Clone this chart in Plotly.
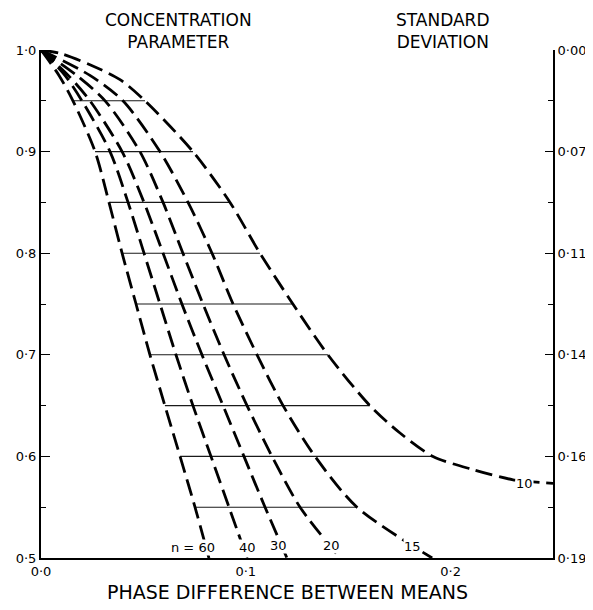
import numpy as np
import plotly.graph_objects as go

# ---------------- data ----------------
levels = [1.0, 0.975, 0.95, 0.9, 0.85, 0.8, 0.75, 0.7, 0.65, 0.6, 0.55, 0.5]

n60_x = [0, 0.0088, 0.0156, 0.0264, 0.0332, 0.0396, 0.0464, 0.0532, 0.0605, 0.0679, 0.0752, 0.0820]
n40_x = [0, 0.0117, 0.0200, 0.0337, 0.0425, 0.0503, 0.0581, 0.0659, 0.0742, 0.0830, 0.0918, 0.1006]
n30_x = [0, 0.0133, 0.0239, 0.0396, 0.0503, 0.0596, 0.0688, 0.0786, 0.0889, 0.0991, 0.1094, 0.1201]
n20_x = [0, 0.0174, 0.0313, 0.0483, 0.0596, 0.0693, 0.0791, 0.0894, 0.1006, 0.1128, 0.1265, 0.1460]
n15_x = [0, 0.0239, 0.0400, 0.0581, 0.0718, 0.0835, 0.0938, 0.1055, 0.1182, 0.1338, 0.1543, 0.1910]

n10_y = [1.0, 0.9967, 0.9855, 0.9708, 0.95, 0.9, 0.85, 0.8, 0.75, 0.7, 0.65, 0.623, 0.6, 0.587, 0.577, 0.5735]
n10_x = [0, 0.0093, 0.0239, 0.0386, 0.0508, 0.0742, 0.0923, 0.1069, 0.1230, 0.1401, 0.1606, 0.1753, 0.1914, 0.2109, 0.2305, 0.25]

grid_levels = [0.95, 0.9, 0.85, 0.8, 0.75, 0.7, 0.65, 0.6, 0.55]

left_tickvals = [0.5, 0.6, 0.7, 0.8, 0.9, 1.0]
left_ticktext = ["0·5", "0·6", "0·7", "0·8", "0·9", "1·0"]
right_ticktext = ["0·19", "0·16", "0·14", "0·11", "0·07", "0·00"]
minor_tickvals = [0.55, 0.65, 0.75, 0.85, 0.95]
x_tickvals = [0.0, 0.1, 0.2]
x_ticktext = ["0·0", "0·1", "0·2"]

curve_labels = ["n = 60", "40", "30", "20", "15", "10"]

# ---------------- figure ----------------
FONT = "DejaVu Sans"
fig = go.Figure()

curves = [(n60_x, levels), (n40_x, levels), (n30_x, levels),
          (n20_x, levels), (n15_x, levels), (n10_x, n10_y)]


def x_at(xs, ys, level):
    return float(np.interp(level, ys[::-1], xs[::-1]))


# horizontal connecting lines: from the n=60 curve to the n=10 curve (n=15 below its reach)
gx, gy = [], []
for lv in grid_levels:
    x0 = x_at(n60_x, levels, lv)
    if lv >= min(n10_y):
        x1 = x_at(n10_x, n10_y, lv)
    else:
        x1 = x_at(n15_x, levels, lv)
    gx += [x0, x1, None]
    gy += [lv, lv, None]

fig.add_trace(go.Scatter(x=gx, y=gy, mode="lines",
                         line=dict(color="#1a1a1a", width=1.1),
                         hoverinfo="skip", showlegend=False))

for xs, ys in curves:
    fig.add_trace(go.Scatter(x=xs, y=ys, mode="lines",
                             line=dict(color="black", width=2.8, dash="17px,7px",
                                       shape="spline", smoothing=0.8),
                             hoverinfo="skip", showlegend=False))

# invisible trace to carry the right-hand axis
fig.add_trace(go.Scatter(x=n10_x, y=n10_y, yaxis="y2", mode="lines",
                         line=dict(width=0), opacity=0, hoverinfo="skip",
                         showlegend=False))

label_pos = [(0.0742, 0.5105), (0.1006, 0.5105), (0.1160, 0.5125),
             (0.1420, 0.5125), (0.1816, 0.5115), (0.2363, 0.5737)]
for txt, (lx, ly) in zip(curve_labels, label_pos):
    fig.add_annotation(x=lx, y=ly, text=txt, showarrow=False,
                       font=dict(family=FONT, size=13, color="black"),
                       bgcolor="white", borderpad=0,
                       xanchor="center", yanchor="middle")

# header texts
fig.add_annotation(x=0.2676, y=1.082, xref="paper", yref="paper",
                   text="CONCENTRATION<br>PARAMETER", showarrow=False,
                   font=dict(family=FONT, size=17, color="black"),
                   xanchor="center", yanchor="top")
fig.add_annotation(x=0.785, y=1.082, xref="paper", yref="paper",
                   text="STANDARD<br>DEVIATION", showarrow=False,
                   font=dict(family=FONT, size=17, color="black"),
                   xanchor="center", yanchor="top")
fig.add_annotation(x=0.482, y=-0.067, xref="paper", yref="paper",
                   text="PHASE DIFFERENCE BETWEEN MEANS", showarrow=False,
                   font=dict(family=FONT, size=19, color="black"),
                   xanchor="center", yanchor="middle")

fig.update_layout(
    width=585, height=594,
    margin=dict(l=33, r=40, t=42, b=44),
    paper_bgcolor="white", plot_bgcolor="white",
    font=dict(family=FONT, size=13, color="black"),
    showlegend=False,
    xaxis=dict(range=[0, 0.25], tickvals=x_tickvals, ticktext=x_ticktext,
               showline=True, linecolor="black", linewidth=2, automargin=False,
               ticks="", showgrid=False, zeroline=False,
               tickfont=dict(family=FONT, size=13)),
    yaxis=dict(range=[0.5, 1.0], tickvals=left_tickvals, ticktext=left_ticktext,
               showline=True, linecolor="black", linewidth=2, automargin=False,
               ticks="inside", ticklen=9, tickwidth=1.2, tickcolor="black",
               minor=dict(ticks="inside", ticklen=5, tickwidth=1.2, tickcolor="black",
                          tickvals=minor_tickvals),
               showgrid=False, zeroline=False,
               tickfont=dict(family=FONT, size=13)),
    yaxis2=dict(range=[0.5, 1.0], overlaying="y", side="right", anchor="x",
                tickvals=left_tickvals, ticktext=right_ticktext,
                showline=True, linecolor="black", linewidth=2, automargin=False,
                ticks="inside", ticklen=8, tickwidth=1.2, tickcolor="black",
                minor=dict(ticks="inside", ticklen=5, tickwidth=1.2, tickcolor="black",
                           tickvals=minor_tickvals),
                showgrid=False, zeroline=False,
                tickfont=dict(family=FONT, size=13)),
)

fig.write_html("out.html")
